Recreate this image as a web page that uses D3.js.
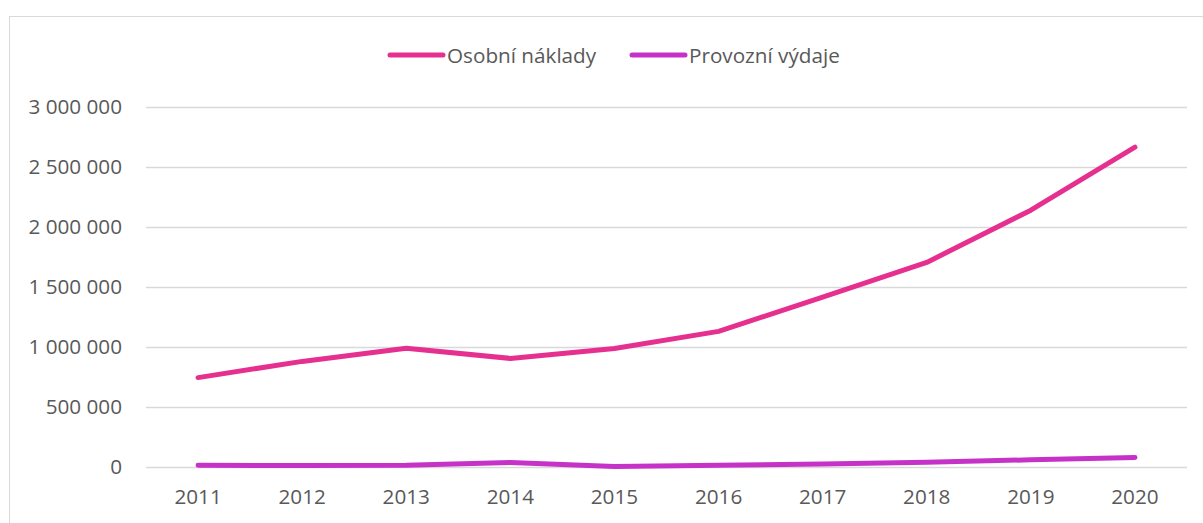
<!DOCTYPE html>
<html>
<head>
<meta charset="utf-8">
<script src="https://cdn.jsdelivr.net/npm/d3@7"></script>
<style>
  body { margin: 0; background: #fff; }
  svg { display: block; font-family: "Open Sans", sans-serif; }
</style>
</head>
<body>
<div id="chart"></div>
<script>
const years = ["2011", "2012", "2013", "2014", "2015", "2016", "2017", "2018", "2019", "2020"];
const osobniNaklady = [745000, 880000, 990000, 905000, 988000, 1130000, 1415000, 1705000, 2140000, 2665000];
const provozniVydaje = [14000, 12000, 15000, 38000, 5000, 14000, 25000, 40000, 60000, 80000];
const yTicks = [0, 500000, 1000000, 1500000, 2000000, 2500000, 3000000];
const seriesNames = ["Osobní náklady", "Provozní výdaje"];
const seriesColors = ["#e6308f", "#c632c8"];

const width = 1203;
const height = 523;
const plotLeft = 146, plotRight = 1187, plotTop = 107, plotBottom = 467;
const fontSize = "20.7px";

const svg = d3.select("#chart")
    .append("svg")
    .attr("width", width)
    .attr("height", height);

// chart frame
svg.append("rect")
    .attr("x", 9.5)
    .attr("y", 16.5)
    .attr("width", width + 20)
    .attr("height", height + 20)
    .attr("fill", "#fff")
    .attr("stroke", "#d9d9d9")
    .attr("stroke-width", 1);

const x = d3.scaleBand().domain(years).range([plotLeft, plotRight]);
const y = d3.scaleLinear().domain([0, 3000000]).range([plotBottom, plotTop]);

const fmt = v => d3.format(",")(v).replace(/,/g, " ");

// gridlines + y labels
const yAxis = svg.append("g")
    .attr("transform", `translate(${plotLeft},0)`)
    .call(d3.axisLeft(y).tickValues(yTicks).tickSize(-(plotRight - plotLeft)).tickPadding(24).tickFormat(fmt));
yAxis.select(".domain").remove();
yAxis.selectAll(".tick line").attr("stroke", "#d9d9d9").attr("stroke-width", 1.3);
yAxis.selectAll(".tick text")
    .attr("fill", "#595959")
    .attr("font-size", fontSize)
    .attr("font-family", "Open Sans, sans-serif");

// x labels
const xAxis = svg.append("g")
    .attr("transform", `translate(0,${plotBottom})`)
    .call(d3.axisBottom(x).tickSize(0).tickPadding(22));
xAxis.select(".domain").remove();
xAxis.selectAll(".tick text")
    .attr("fill", "#595959")
    .attr("font-size", fontSize)
    .attr("font-family", "Open Sans, sans-serif");

// lines
const line = d3.line()
    .x((d, i) => x(years[i]) + x.bandwidth() / 2)
    .y(d => y(d));

[osobniNaklady, provozniVydaje].forEach((series, i) => {
    svg.append("path")
        .datum(series)
        .attr("d", line)
        .attr("fill", "none")
        .attr("stroke", seriesColors[i])
        .attr("stroke-width", 5)
        .attr("stroke-linecap", "round")
        .attr("stroke-linejoin", "round");
});

// legend
const legendItems = [{ x: 390 }, { x: 632 }];
const legend = svg.append("g").attr("class", "legend");
legendItems.forEach((item, i) => {
    legend.append("line")
        .attr("x1", item.x)
        .attr("x2", item.x + 53)
        .attr("y1", 55)
        .attr("y2", 55)
        .attr("stroke", seriesColors[i])
        .attr("stroke-width", 5)
        .attr("stroke-linecap", "round");
    legend.append("text")
        .attr("x", item.x + 57)
        .attr("y", 55)
        .attr("dominant-baseline", "central")
        .attr("font-size", fontSize)
        .attr("fill", "#595959")
        .text(seriesNames[i]);
});
</script>
</body>
</html>
